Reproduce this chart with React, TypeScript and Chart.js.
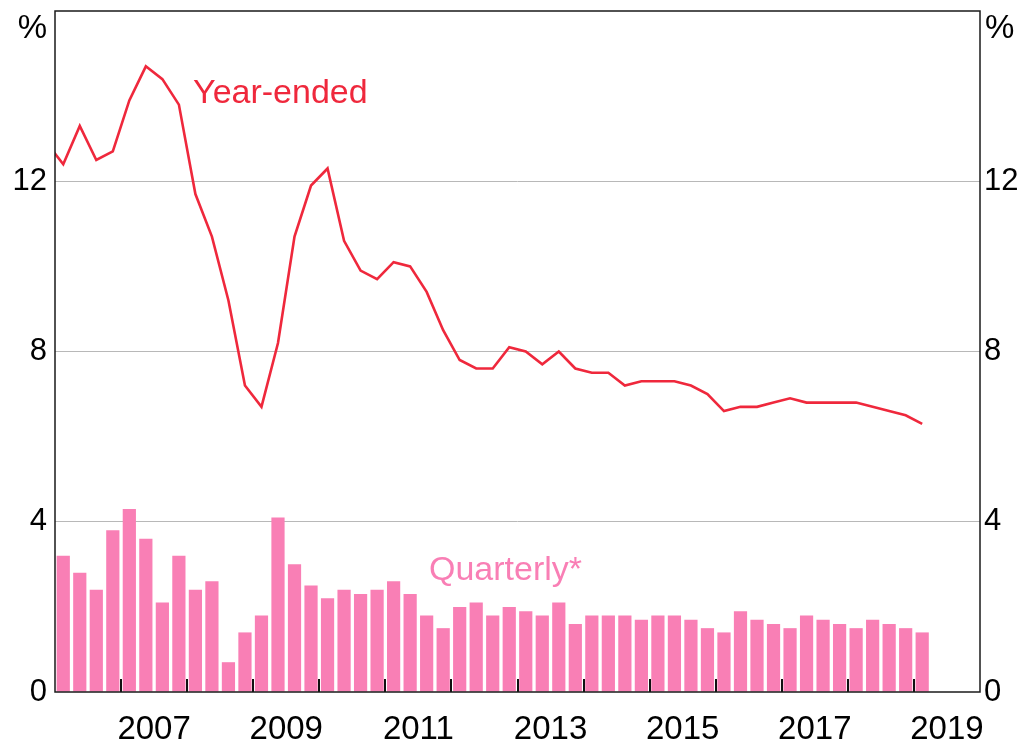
import React, { useEffect, useRef } from "react";
import { Chart, registerables } from "chart.js";

Chart.register(...registerables);

// Quarter labels (first one sits just before the visible range)
const quarters = [
  "2005Q4",
  "2006Q1", "2006Q2", "2006Q3", "2006Q4",
  "2007Q1", "2007Q2", "2007Q3", "2007Q4",
  "2008Q1", "2008Q2", "2008Q3", "2008Q4",
  "2009Q1", "2009Q2", "2009Q3", "2009Q4",
  "2010Q1", "2010Q2", "2010Q3", "2010Q4",
  "2011Q1", "2011Q2", "2011Q3", "2011Q4",
  "2012Q1", "2012Q2", "2012Q3", "2012Q4",
  "2013Q1", "2013Q2", "2013Q3", "2013Q4",
  "2014Q1", "2014Q2", "2014Q3", "2014Q4",
  "2015Q1", "2015Q2", "2015Q3", "2015Q4",
  "2016Q1", "2016Q2", "2016Q3", "2016Q4",
  "2017Q1", "2017Q2", "2017Q3", "2017Q4",
  "2018Q1", "2018Q2", "2018Q3", "2018Q4",
  "2019Q1",
];

const yearEnded = [
  12.9,
  12.4, 13.3, 12.5, 12.7,
  13.9, 14.7, 14.4, 13.8,
  11.7, 10.7, 9.2, 7.2,
  6.7, 8.2, 10.7, 11.9,
  12.3, 10.6, 9.9, 9.7,
  10.1, 10.0, 9.4, 8.5,
  7.8, 7.6, 7.6, 8.1,
  8.0, 7.7, 8.0, 7.6,
  7.5, 7.5, 7.2, 7.3,
  7.3, 7.3, 7.2, 7.0,
  6.6, 6.7, 6.7, 6.8,
  6.9, 6.8, 6.8, 6.8,
  6.8, 6.7, 6.6, 6.5,
  6.3,
];

const quarterly = [
  null,
  3.2, 2.8, 2.4, 3.8,
  4.3, 3.6, 2.1, 3.2,
  2.4, 2.6, 0.7, 1.4,
  1.8, 4.1, 3.0, 2.5,
  2.2, 2.4, 2.3, 2.4,
  2.6, 2.3, 1.8, 1.5,
  2.0, 2.1, 1.8, 2.0,
  1.9, 1.8, 2.1, 1.6,
  1.8, 1.8, 1.8, 1.7,
  1.8, 1.8, 1.7, 1.5,
  1.4, 1.9, 1.7, 1.6,
  1.5, 1.8, 1.7, 1.6,
  1.5, 1.7, 1.6, 1.5,
  1.4,
];

const xTickLabels = ["2007", "2009", "2011", "2013", "2015", "2017", "2019"];
const yTickValues = [0, 4, 8, 12, 16];

const X_MIN = 2006;
const X_MAX = 2020;
const Y_MIN = 0;
const Y_MAX = 16;

const RED = "#ef283c";
const PINK = "#f97fb5";
const FONT = "'Liberation Sans', Arial, sans-serif";

function quarterToX(q: string): number {
  const year = Number(q.slice(0, 4));
  const qn = Number(q.slice(5));
  return year + (qn - 0.5) / 4;
}

function zeroPadding(s: any) {
  s.paddingTop = 0;
  s.paddingBottom = 0;
  s.paddingLeft = 0;
  s.paddingRight = 0;
}

const decorPlugin = {
  id: "decor",
  afterDraw(chart: any) {
    const { ctx, chartArea: a, scales } = chart;
    const xs = scales.x;
    const ys = scales.y;
    ctx.save();
    // year boundary tick marks inside the plot
    ctx.strokeStyle = "#111";
    ctx.lineWidth = 2;
    quarters
      .filter((q) => q.endsWith("Q1"))
      .forEach((q) => {
        const yr = Number(q.slice(0, 4));
        const px = Math.round(xs.getPixelForValue(yr));
        if (px <= a.left + 1 || px >= a.right - 1) return;
        ctx.beginPath();
        ctx.moveTo(px, a.bottom);
        ctx.lineTo(px, a.bottom - 13);
        ctx.stroke();
      });
    // frame
    ctx.strokeStyle = "#1a1a1a";
    ctx.lineWidth = 1.5;
    ctx.strokeRect(a.left, a.top, a.right - a.left, a.bottom - a.top);
    // % unit labels
    ctx.fillStyle = "#000";
    ctx.font = `33px ${FONT}`;
    ctx.textBaseline = "middle";
    ctx.textAlign = "right";
    ctx.fillText("%", a.left - 8, a.top + 18);
    ctx.textAlign = "left";
    ctx.fillText("%", a.right + 5, a.top + 18);
    // series labels
    ctx.font = `34px ${FONT}`;
    ctx.textBaseline = "alphabetic";
    ctx.textAlign = "left";
    ctx.fillStyle = RED;
    ctx.fillText("Year-ended", xs.getPixelForValue(2008.09), ys.getPixelForValue(13.84));
    ctx.fillStyle = PINK;
    ctx.fillText("Quarterly*", xs.getPixelForValue(2011.66), ys.getPixelForValue(2.63));
    ctx.restore();
  },
};

export default function App() {
  const ref = useRef<HTMLCanvasElement | null>(null);

  useEffect(() => {
    if (!ref.current) return;
    const lineData = quarters.map((q, i) => ({ x: quarterToX(q), y: yearEnded[i] }));
    const barData = quarters
      .map((q, i) => ({ x: quarterToX(q), y: quarterly[i] }))
      .filter((d) => d.y !== null);

    const tickFont = { family: FONT, size: 31 };

    const chart = new Chart(ref.current, {
      type: "bar",
      data: {
        datasets: [
          {
            type: "line",
            label: "Year-ended",
            data: lineData as any,
            borderColor: RED,
            borderWidth: 2.6,
            pointRadius: 0,
            tension: 0,
            fill: false,
            clip: 0,
            order: 0,
            yAxisID: "y",
          } as any,
          {
            type: "bar",
            label: "Quarterly*",
            data: barData as any,
            backgroundColor: PINK,
            borderWidth: 0,
            barPercentage: 0.8,
            categoryPercentage: 1.0,
            order: 1,
            yAxisID: "y",
          } as any,
        ],
      },
      options: {
        animation: false,
        responsive: true,
        maintainAspectRatio: false,
        devicePixelRatio: 1,
        layout: { padding: { top: 11, left: 0, right: 0, bottom: 0 } },
        plugins: {
          legend: { display: false },
          tooltip: { enabled: false },
        },
        scales: {
          x: {
            type: "linear",
            position: "bottom",
            min: X_MIN,
            max: X_MAX,
            offset: false,
            bounds: "data",
            afterBuildTicks: (s: any) => {
              s.ticks = xTickLabels.map((l) => ({ value: Number(l) + 0.5 }));
            },
            ticks: {
              autoSkip: false,
              maxRotation: 0,
              minRotation: 0,
              padding: 18,
              color: "#000",
              font: { family: FONT, size: 33 },
              callback: (v: any) => String(Math.floor(Number(v))),
            },
            grid: { display: false, drawTicks: false, offset: false },
            border: { display: false },
            afterFit: (s: any) => {
              s.height = 51;
              zeroPadding(s);
            },
          },
          y: {
            position: "left",
            min: Y_MIN,
            max: Y_MAX,
            afterBuildTicks: (s: any) => {
              s.ticks = yTickValues.map((v) => ({ value: v }));
            },
            ticks: {
              padding: 8,
              color: "#000",
              font: tickFont,
              callback: (v: any) => (Number(v) === Y_MAX ? "" : String(v)),
            },
            grid: {
              drawTicks: false,
              lineWidth: 1,
              color: (c: any) =>
                c.tick && (c.tick.value === Y_MIN || c.tick.value === Y_MAX)
                  ? "rgba(0,0,0,0)"
                  : "#b8b8b8",
            },
            border: { display: false },
            afterFit: (s: any) => {
              s.width = 55;
              zeroPadding(s);
            },
          },
          y2: {
            position: "right",
            min: Y_MIN,
            max: Y_MAX,
            afterBuildTicks: (s: any) => {
              s.ticks = yTickValues.map((v) => ({ value: v }));
            },
            ticks: {
              padding: 4,
              color: "#000",
              font: tickFont,
              callback: (v: any) => (Number(v) === Y_MAX ? "" : String(v)),
            },
            grid: { display: false, drawTicks: false },
            border: { display: false },
            afterFit: (s: any) => {
              s.width = 46;
              zeroPadding(s);
            },
          },
        },
      } as any,
      plugins: [decorPlugin],
    });

    return () => chart.destroy();
  }, []);

  return (
    <div style={{ position: "absolute", left: 0, top: 0, width: 1026, height: 743, background: "#fff" }}>
      <canvas ref={ref} />
    </div>
  );
}
